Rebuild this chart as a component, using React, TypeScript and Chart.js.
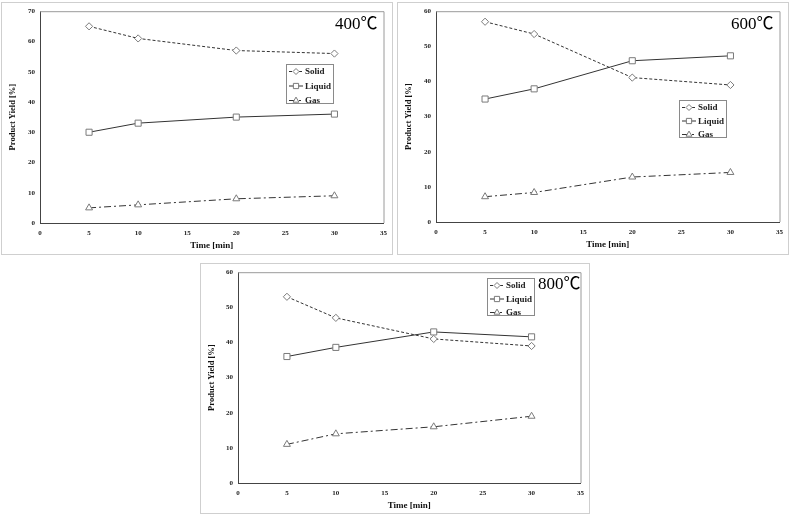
import React, { useEffect, useRef } from "react";
import { Chart, registerables } from "chart.js";

Chart.register(...registerables);

// ---- data ----
const times = [5, 10, 20, 30];
const seriesNames = ["Solid", "Liquid", "Gas"];

const solid400 = [65, 61, 57, 56];
const liquid400 = [30, 33, 35, 36];
const gas400 = [5, 6, 8, 9];

const solid600 = [57, 53.5, 41.1, 39];
const liquid600 = [35, 37.9, 45.9, 47.3];
const gas600 = [7.2, 8.4, 12.8, 14.1];

const solid800 = [53, 47, 41, 39];
const liquid800 = [36, 38.6, 43, 41.6];
const gas800 = [11, 14, 16, 19];

const panelLabels = ["400℃", "600℃", "800℃"];
const yMaxes = [70, 60, 60];
const xMax = 35;
const xStep = 5;
const yStep = 10;
const xTitle = "Time [min]";
const yTitle = "Product Yield [%]";

const SERIF = "'Liberation Serif', 'Times New Roman', serif";
const LINE = "#333";
const MARK = "#7a7a7a";

const styles = [
  { dash: [3, 2], point: "rectRot", radius: 3.6 },
  { dash: [], point: "rect", radius: 4.3 },
  { dash: [7, 3, 2, 3], point: "triangle", radius: 4 },
];

function drawMarker(ctx: CanvasRenderingContext2D, kind: string, x: number, y: number, r: number) {
  ctx.save();
  ctx.setLineDash([]);
  ctx.fillStyle = "#fff";
  ctx.strokeStyle = MARK;
  ctx.lineWidth = 1;
  ctx.beginPath();
  if (kind === "rectRot") {
    ctx.moveTo(x, y - r);
    ctx.lineTo(x + r, y);
    ctx.lineTo(x, y + r);
    ctx.lineTo(x - r, y);
    ctx.closePath();
  } else if (kind === "rect") {
    const s = r * Math.SQRT1_2;
    ctx.rect(x - s, y - s, 2 * s, 2 * s);
  } else {
    const h = r * 1.5;
    ctx.moveTo(x, y - r);
    ctx.lineTo(x + h / Math.sqrt(3), y + r / 2);
    ctx.lineTo(x - h / Math.sqrt(3), y + r / 2);
    ctx.closePath();
  }
  ctx.fill();
  ctx.stroke();
  ctx.restore();
}

type PanelCfg = {
  frame: { left: number; top: number; width: number; height: number };
  plot: { left: number; top: number; right: number; bottom: number };
  legendBox: { x: number; y: number; w: number; h: number };
  labelPos: { x: number; y: number };
  xTitlePad: number;
  series: number[][];
  label: string;
  yMax: number;
};

function Panel({ cfg }: { cfg: PanelCfg }) {
  const ref = useRef<HTMLCanvasElement | null>(null);
  useEffect(() => {
    const canvas = ref.current;
    if (!canvas) return;
    const { frame, plot, legendBox, labelPos } = cfg;
    const yAxisW = plot.left;
    const xAxisH = frame.height - plot.bottom;

    const decor = {
      id: "decor",
      afterDraw(chart: any) {
        const ctx = chart.ctx as CanvasRenderingContext2D;
        const a = chart.chartArea;
        ctx.save();
        // top & right plot border
        ctx.strokeStyle = "#9a9a9a";
        ctx.lineWidth = 1;
        ctx.beginPath();
        ctx.moveTo(a.left, a.top + 0.5);
        ctx.lineTo(a.right + 0.5, a.top + 0.5);
        ctx.lineTo(a.right + 0.5, a.bottom);
        ctx.stroke();
        // legend box
        const b = legendBox;
        ctx.fillStyle = "#fff";
        ctx.fillRect(b.x, b.y, b.w, b.h);
        ctx.strokeStyle = "#8a8a8a";
        ctx.strokeRect(b.x + 0.5, b.y + 0.5, b.w, b.h);
        const rowGap = (b.h - 10) / 2;
        seriesNames.forEach((name, i) => {
          const yy = b.y + 7.5 + i * rowGap;
          const st = styles[i];
          ctx.save();
          ctx.strokeStyle = LINE;
          ctx.lineWidth = 1;
          ctx.setLineDash(st.dash);
          ctx.beginPath();
          ctx.moveTo(b.x + 3, yy);
          ctx.lineTo(b.x + 17, yy);
          ctx.stroke();
          ctx.restore();
          drawMarker(ctx, st.point, b.x + 10, yy, st.radius - 0.6);
          ctx.fillStyle = "#222";
          ctx.font = `bold 9px ${SERIF}`;
          ctx.textAlign = "left";
          ctx.textBaseline = "middle";
          ctx.fillText(name, b.x + 19, yy + 0.5);
        });
        // temperature label
        ctx.fillStyle = "#000";
        ctx.font = `17px ${SERIF.replace("serif", "'Noto Sans CJK KR', serif")}`;
        ctx.textAlign = "left";
        ctx.textBaseline = "middle";
        ctx.fillText(cfg.label, labelPos.x, labelPos.y);
        ctx.restore();
      },
    };

    const tickFont = { family: SERIF, size: 7, weight: "bold" as const };
    const chart = new Chart(canvas, {
      type: "line",
      data: {
        datasets: cfg.series.map((vals, i) => ({
          label: seriesNames[i],
          data: times.map((t, k) => ({ x: t, y: vals[k] })),
          borderColor: LINE,
          borderWidth: 1,
          borderDash: styles[i].dash,
          pointStyle: styles[i].point as any,
          pointRadius: styles[i].radius,
          pointBackgroundColor: "#fff",
          pointBorderColor: MARK,
          pointBorderWidth: 1,
          tension: 0,
          fill: false,
        })),
      },
      options: {
        animation: false,
        responsive: false,
        events: [],
        layout: {
          padding: { top: plot.top, right: frame.width - plot.right, left: 0, bottom: 0 },
        },
        plugins: { legend: { display: false }, tooltip: { enabled: false } },
        scales: {
          x: {
            type: "linear",
            min: 0,
            max: xMax,
            grid: { display: false, drawTicks: false },
            border: { display: true, color: "#444", width: 1 },
            ticks: { stepSize: xStep, font: tickFont, color: "#222", padding: 6, maxRotation: 0 },
            title: {
              display: true,
              text: xTitle,
              font: { family: SERIF, size: 9, weight: "bold" },
              color: "#111",
              padding: { top: 0, bottom: cfg.xTitlePad },
            },
            afterFit: (s: any) => {
              s.height = xAxisH;
            },
          },
          y: {
            type: "linear",
            min: 0,
            max: cfg.yMax,
            grid: { display: false, drawTicks: false },
            border: { display: true, color: "#444", width: 1 },
            ticks: { stepSize: yStep, font: tickFont, color: "#222", padding: 5 },
            title: {
              display: true,
              text: yTitle,
              font: { family: SERIF, size: 8.5, weight: "bold" },
              color: "#111",
              padding: { top: 7, bottom: 0 },
            },
            afterFit: (s: any) => {
              s.width = yAxisW;
            },
          },
        },
      },
      plugins: [decor],
    });
    return () => chart.destroy();
  }, [cfg]);

  const { frame } = cfg;
  return (
    <>
      <div
        style={{
          position: "absolute",
          left: frame.left,
          top: frame.top,
          width: frame.width,
          height: frame.height,
          border: "1px solid #cfcfcf",
          boxSizing: "border-box",
        }}
      />
      <canvas
        ref={ref}
        width={frame.width}
        height={frame.height}
        style={{ position: "absolute", left: frame.left, top: frame.top, width: frame.width, height: frame.height }}
      />
    </>
  );
}

const panels: PanelCfg[] = [
  {
    frame: { left: 1, top: 2, width: 392, height: 253 },
    plot: { left: 39, top: 6, right: 385, bottom: 221 },
    legendBox: { x: 285, y: 62, w: 47, h: 39 },
    labelPos: { x: 334, y: 23 },
    xTitlePad: 4,
    series: [solid400, liquid400, gas400],
    label: panelLabels[0],
    yMax: yMaxes[0],
  },
  {
    frame: { left: 397, top: 2, width: 392, height: 253 },
    plot: { left: 39, top: 6, right: 385, bottom: 220 },
    legendBox: { x: 282, y: 98, w: 47, h: 37 },
    labelPos: { x: 334, y: 23 },
    xTitlePad: 4.5,
    series: [solid600, liquid600, gas600],
    label: panelLabels[1],
    yMax: yMaxes[1],
  },
  {
    frame: { left: 200, top: 263, width: 390, height: 251 },
    plot: { left: 38, top: 7, right: 383, bottom: 220 },
    legendBox: { x: 287, y: 15, w: 47, h: 37 },
    labelPos: { x: 338, y: 22 },
    xTitlePad: 3,
    series: [solid800, liquid800, gas800],
    label: panelLabels[2],
    yMax: yMaxes[2],
  },
];

export default function App() {
  return (
    <div style={{ position: "fixed", left: 0, top: 0, width: 790, height: 517, background: "#fff", overflow: "hidden" }}>
      {panels.map((p, i) => (
        <Panel key={i} cfg={p} />
      ))}
    </div>
  );
}
